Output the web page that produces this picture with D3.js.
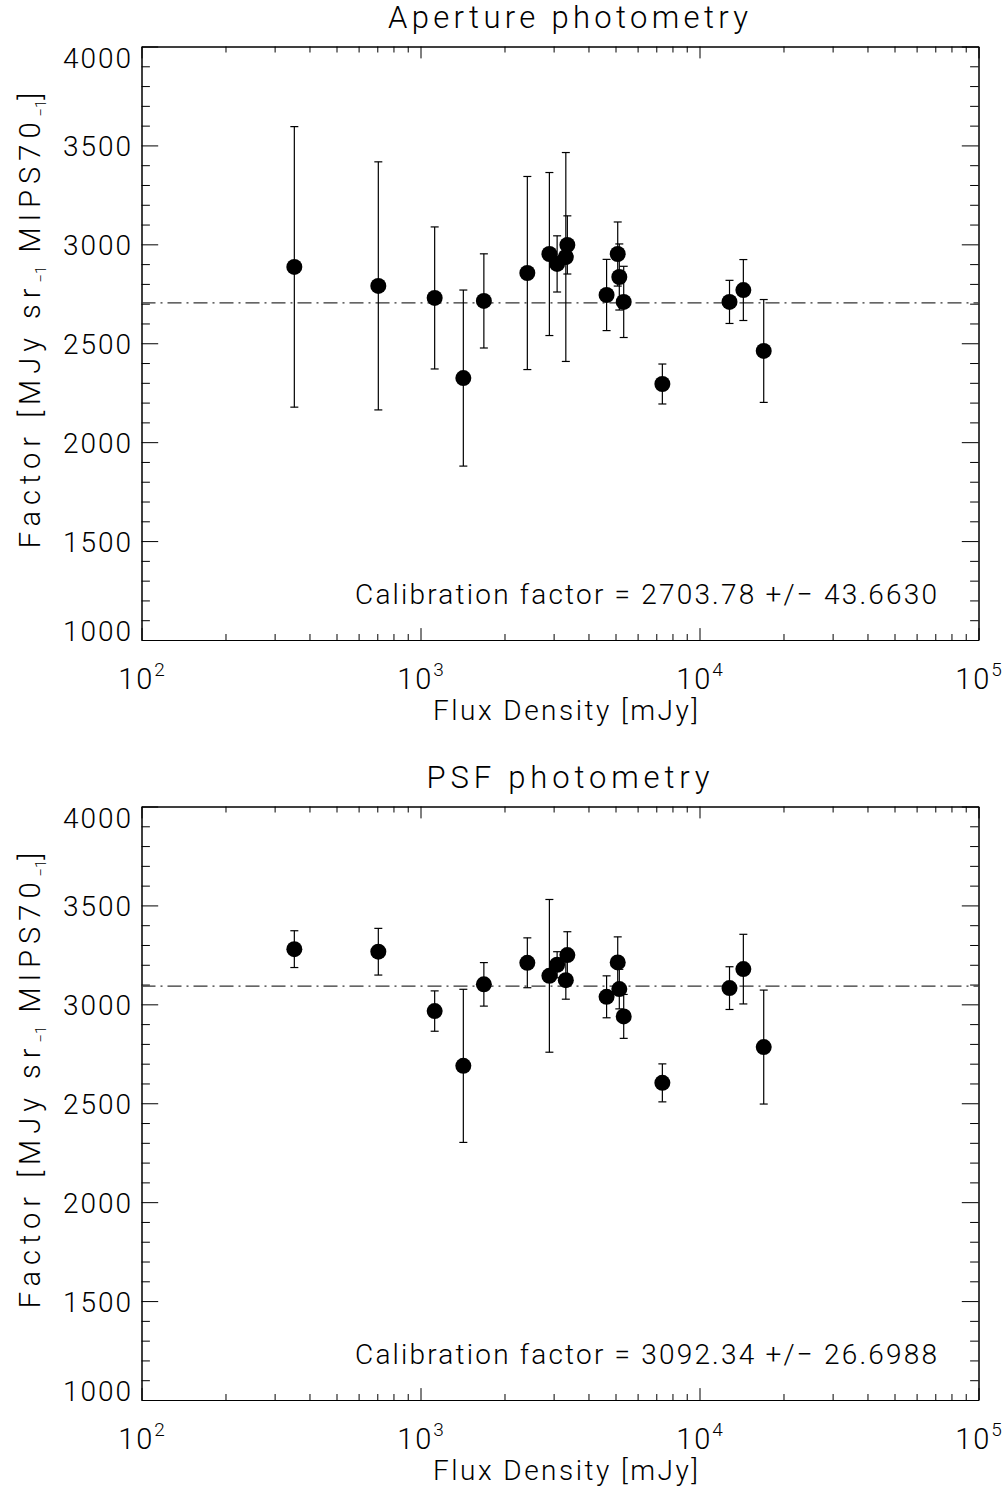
<!DOCTYPE html>
<html><head><meta charset="utf-8">
<script src="https://cdn.jsdelivr.net/npm/d3@7"></script>
<style>
body{margin:0;background:#fff}
text{font-family:Roboto,"Open Sans",sans-serif;font-weight:300;fill:#000}
</style>
</head><body>
<svg id="c" width="1008" height="1490"></svg>
<script>
// ---- data ----
const fluxes = [353, 706, 1124, 1424, 1687, 2415, 2897, 3088, 3318, 3360, 4645, 5092, 5159, 5350, 7360, 12810, 14360, 16990];
const apertureValues = [2886, 2790, 2729, 2324, 2714, 2855, 2951, 2901, 2936, 2997, 2744, 2951, 2835, 2709, 2294, 2709, 2769, 2461];
const apertureErrors = [709, 627, 359, 445, 238, 488, 412, 142, 528, 147, 180, 162, 167, 180, 101, 109, 154, 260];
const psfValues = [3279, 3266, 2966, 2689, 3101, 3210, 3144, 3200, 3122, 3249, 3038, 3212, 3077, 2939, 2603, 3082, 3178, 2784];
const psfErrors = [93, 118, 102, 387, 110, 126, 386, 66, 96, 118, 106, 129, 100, 111, 96, 108, 176, 288];
const panelTitles = ["Aperture photometry", "PSF photometry"];
const calibMeans = [2703.78, 3092.34];
const calibLabels = ["Calibration factor = 2703.78 +/\u2212 43.6630", "Calibration factor = 3092.34 +/\u2212 26.6988"];
const xMajorTicks = [100, 1000, 10000, 100000];
const xTickExponents = ["2", "3", "4", "5"];
const yMajorTicks = [1000, 1500, 2000, 2500, 3000, 3500, 4000];
const xAxisTitle = "Flux Density [mJy]";

// ---- layout ----
const svg = d3.select("#c");
const L = 141.5, R = 978.5, H = 593.5;
const tops = [46.5, 806.5];
const titleWidths = [360, 283];
const seriesV = [apertureValues, psfValues];
const seriesE = [apertureErrors, psfErrors];

const xMinor = [];
[100, 1000, 10000].forEach(d => { for (let k = 2; k <= 9; k++) xMinor.push(d * k); });
const yMinor = d3.range(1000, 4001, 100).filter(v => v % 500 !== 0);

panelTitles.forEach((title, p) => {
  const top = tops[p], bot = top + H;
  const x = d3.scaleLog().domain([100, 100000]).range([L, R]);
  const y = d3.scaleLinear().domain([1000, 4000]).range([bot, top]);
  const g = svg.append("g");

  const axStyle = sel => { sel.selectAll("path,line").attr("stroke", "#000").attr("stroke-width", 1); sel.selectAll("text").remove(); };
  const xMajLen = 11.9, xMinLen = 6, yMajLen = 16.7, yMinLen = 8.4;
  g.append("g").attr("transform", `translate(0,${bot})`).call(d3.axisBottom(x).tickValues(xMajorTicks).tickSize(-xMajLen).tickSizeOuter(0).tickFormat("")).call(axStyle);
  g.append("g").attr("transform", `translate(0,${bot})`).call(d3.axisBottom(x).tickValues(xMinor).tickSize(-xMinLen).tickSizeOuter(0).tickFormat("")).call(axStyle);
  g.append("g").attr("transform", `translate(0,${top})`).call(d3.axisTop(x).tickValues(xMajorTicks).tickSize(-xMajLen).tickSizeOuter(0).tickFormat("")).call(axStyle);
  g.append("g").attr("transform", `translate(0,${top})`).call(d3.axisTop(x).tickValues(xMinor).tickSize(-xMinLen).tickSizeOuter(0).tickFormat("")).call(axStyle);
  g.append("g").attr("transform", `translate(${L},0)`).call(d3.axisLeft(y).tickValues(yMajorTicks).tickSize(-yMajLen).tickSizeOuter(0).tickFormat("")).call(axStyle);
  g.append("g").attr("transform", `translate(${L},0)`).call(d3.axisLeft(y).tickValues(yMinor).tickSize(-yMinLen).tickSizeOuter(0).tickFormat("")).call(axStyle);
  g.append("g").attr("transform", `translate(${R},0)`).call(d3.axisRight(y).tickValues(yMajorTicks).tickSize(-yMajLen).tickSizeOuter(0).tickFormat("")).call(axStyle);
  g.append("g").attr("transform", `translate(${R},0)`).call(d3.axisRight(y).tickValues(yMinor).tickSize(-yMinLen).tickSizeOuter(0).tickFormat("")).call(axStyle);

  // y tick labels
  yMajorTicks.forEach(v => {
    g.append("text").attr("x", 131).attr("text-anchor", "end").attr("font-size", 28)
      .attr("y", v === 4000 ? top + 21 : (v === 1000 ? bot + 1 : y(v) + 11))
      .attr("textLength", 68).attr("lengthAdjust", "spacing").text(v);
  });

  // x tick labels
  xMajorTicks.forEach((v, i) => {
    const t = g.append("text").attr("x", x(v)).attr("y", bot + 49).attr("text-anchor", "middle").attr("font-size", 29);
    t.append("tspan").attr("letter-spacing", 2).text("10");
    t.append("tspan").attr("font-size", 19).attr("dy", -13).text(xTickExponents[i]);
  });

  // titles
  g.append("text").attr("x", 568).attr("y", top - 18.5).attr("text-anchor", "middle").attr("font-size", 31)
    .attr("textLength", titleWidths[p]).attr("lengthAdjust", "spacing").text(title);
  g.append("text").attr("x", 565.5).attr("y", bot + 80).attr("text-anchor", "middle").attr("font-size", 28)
    .attr("textLength", 265).attr("lengthAdjust", "spacing").text(xAxisTitle);
  g.append("text").attr("x", 355).attr("y", bot - 36).attr("font-size", 28)
    .attr("textLength", 582).attr("lengthAdjust", "spacing").text(calibLabels[p]);

  // y-axis title
  const yt = g.append("text").attr("transform", `translate(40,${top + 271}) rotate(-90)`)
    .attr("text-anchor", "middle").attr("font-size", 29).attr("letter-spacing", 6);
  yt.append("tspan").text("Factor [MJy sr");
  yt.append("tspan").attr("font-size", 15).attr("dy", 6).attr("letter-spacing", 0).text("\u22121");
  yt.append("tspan").attr("dy", -6).text(" MIPS70");
  yt.append("tspan").attr("font-size", 15).attr("dy", 6).attr("letter-spacing", 0).text("\u22121");
  yt.append("tspan").attr("dy", -6).text("]");

  // mean line (dash-dot)
  g.append("line").attr("x1", L).attr("x2", R).attr("y1", y(calibMeans[p])).attr("y2", y(calibMeans[p]))
    .attr("stroke", "#333").attr("stroke-width", 1.3).attr("stroke-dasharray", "14,5,2,5");

  // error bars
  const vals = seriesV[p], errs = seriesE[p];
  const pts = fluxes.map((f, i) => ({f, v: vals[i], e: errs[i]}));
  const eb = g.append("g").attr("stroke", "#000").attr("stroke-width", 1.2);
  pts.forEach(d => {
    const cx = x(d.f), y1 = y(d.v + d.e), y2 = y(d.v - d.e);
    eb.append("line").attr("x1", cx).attr("x2", cx).attr("y1", y1).attr("y2", y2);
    eb.append("line").attr("x1", cx - 4).attr("x2", cx + 4).attr("y1", y1).attr("y2", y1);
    eb.append("line").attr("x1", cx - 4).attr("x2", cx + 4).attr("y1", y2).attr("y2", y2);
  });
  g.selectAll(".pt").data(pts).enter().append("circle")
    .attr("cx", d => x(d.f)).attr("cy", d => y(d.v)).attr("r", 8).attr("fill", "#000");
});
</script>
</body></html>
